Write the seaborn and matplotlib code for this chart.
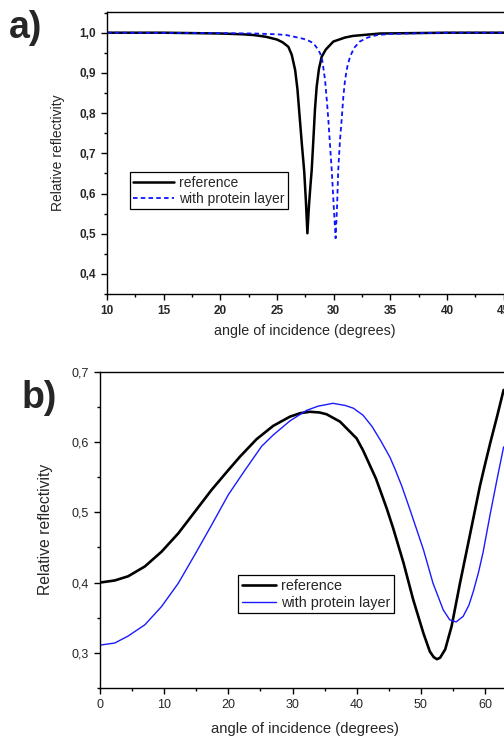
import matplotlib
matplotlib.use("Agg")
import matplotlib.pyplot as plt
from matplotlib.ticker import MultipleLocator, FuncFormatter
import seaborn as sns
import pandas as pd

# --- a) SPR resonance dip (gold film) ---
a_angle_ref = [10, 15, 20, 22, 23, 24, 25, 25.5, 26.0, 26.3, 26.6, 26.8, 27.0, 27.2,
               27.4, 27.55, 27.68, 27.82, 27.95, 28.06, 28.2, 28.35, 28.5, 28.7, 28.94,
               29.3, 29.97, 31.0, 31.7, 34.1, 37, 40, 45, 50]
a_refl_ref = [1.0, 1.0, 0.998, 0.996, 0.994, 0.990, 0.983, 0.976, 0.965, 0.945, 0.907,
              0.86, 0.79, 0.72, 0.655, 0.58, 0.501, 0.57, 0.62, 0.658, 0.73, 0.81,
              0.866, 0.91, 0.94, 0.958, 0.978, 0.988, 0.992, 0.998, 0.999, 1.0, 1.0, 1.0]

a_angle_prot = [10, 20, 23, 25, 25.85, 26.5, 27.3, 27.8, 28.2, 28.5, 28.8, 29.0, 29.1,
                29.24, 29.4, 29.53, 29.7, 29.83, 30.0, 30.17, 30.3, 30.4, 30.55, 30.7,
                30.85, 31.0, 31.2, 31.44, 31.8, 32.3, 33.0, 33.8, 35, 38, 40, 50]
a_refl_prot = [1.0, 0.999, 0.998, 0.996, 0.994, 0.99, 0.985, 0.98, 0.974, 0.963, 0.949,
               0.93, 0.91, 0.882, 0.83, 0.783, 0.71, 0.658, 0.57, 0.489, 0.57, 0.658,
               0.73, 0.783, 0.84, 0.882, 0.915, 0.94, 0.962, 0.978, 0.988, 0.994,
               0.997, 0.999, 1.0, 1.0]

# --- b) thin-film interference ---
b_angle_ref = [0, 2.3, 4.4, 7.0, 9.6, 12.2, 14.8, 17.4, 20.0, 21.8, 24.4, 27.0, 29.6,
               31.2, 32.7, 34.2, 35.3, 37.4, 40.0, 41.0, 42.0, 43.0, 43.6, 44.7, 45.7,
               47.3, 48.8, 50.4, 51.4, 52.0, 52.5, 53.0, 53.8, 54.8, 56.1, 57.7, 59.2,
               60.0, 60.8, 61.9, 62.9]
b_refl_ref = [0.400, 0.403, 0.409, 0.423, 0.444, 0.470, 0.501, 0.532, 0.560, 0.579,
              0.604, 0.623, 0.636, 0.641, 0.643, 0.642, 0.6395, 0.629, 0.605, 0.588,
              0.568, 0.548, 0.533, 0.505, 0.477, 0.428, 0.376, 0.328, 0.302, 0.294,
              0.291, 0.293, 0.305, 0.338, 0.399, 0.470, 0.537, 0.568, 0.598, 0.637,
              0.674]

b_angle_prot = [0, 2.3, 4.4, 7.0, 9.6, 12.2, 14.8, 17.4, 20.0, 22.6, 25.2, 27.0, 29.6,
                32.2, 34.0, 36.3, 38.2, 39.5, 41.0, 42.4, 43.8, 45.2, 46.0, 47.0, 48.3,
                50.4, 51.9, 53.5, 54.5, 55.5, 56.6, 57.5, 58.2, 59.0, 59.7, 60.8, 61.9,
                62.9]
b_refl_prot = [0.311, 0.314, 0.324, 0.340, 0.366, 0.399, 0.440, 0.482, 0.525, 0.560,
               0.594, 0.610, 0.630, 0.645, 0.651, 0.655, 0.652, 0.648, 0.638, 0.622,
               0.601, 0.578, 0.561, 0.538, 0.504, 0.447, 0.399, 0.361, 0.347, 0.344,
               0.352, 0.368, 0.388, 0.415, 0.443, 0.497, 0.548, 0.593]

series_labels = ["reference", "with protein layer"]
x_title = "angle of incidence (degrees)"
y_title = "Relative reflectivity"

sns.set_style("ticks")
plt.rcParams["font.family"] = ["Liberation Sans", "DejaVu Sans"]
plt.rcParams["axes.linewidth"] = 1.0

comma = FuncFormatter(lambda v, p: f"{v:.1f}".replace(".", ","))
intfmt = FuncFormatter(lambda v, p: f"{v:.0f}")

fig = plt.figure(figsize=(5.04, 7.36), dpi=100)
W, H = 504.0, 736.0


def style_axes(ax, tick_weight, size):
    ax.spines["right"].set_visible(False)
    for s in ("left", "bottom", "top"):
        ax.spines[s].set_color("black")
    ax.tick_params(which="major", direction="out", length=4.5, width=1.0,
                   labelsize=size, color="black", top=False, right=False)
    ax.tick_params(which="minor", direction="out", length=2.5, width=1.0,
                   color="black", top=False, right=False)
    for lab in ax.get_xticklabels() + ax.get_yticklabels():
        lab.set_fontweight(tick_weight)


# panel a: the x range runs slightly past the right figure edge
px_per_deg_a = (503.7 - 107.0) / 35.0
xmax_a = 46
wa = (xmax_a - 10) * px_per_deg_a
ax_a = fig.add_axes([107 / W, 1 - 294 / H, wa / W, 282 / H])
df_a_ref = pd.DataFrame({"angle": a_angle_ref, "R": a_refl_ref})
df_a_prot = pd.DataFrame({"angle": a_angle_prot, "R": a_refl_prot})
sns.lineplot(data=df_a_ref, x="angle", y="R", ax=ax_a, color="black", lw=1.8,
             label=series_labels[0], sort=False)
sns.lineplot(data=df_a_prot, x="angle", y="R", ax=ax_a, color="#0a14ff", lw=1.3,
             ls=(0, (2.5, 1.8)), label=series_labels[1], sort=False)
ax_a.set_xlim(10, xmax_a)
ax_a.set_ylim(0.35, 1.0515)
ax_a.xaxis.set_major_locator(MultipleLocator(5))
ax_a.xaxis.set_minor_locator(MultipleLocator(2.5))
ax_a.yaxis.set_major_locator(MultipleLocator(0.1))
ax_a.yaxis.set_minor_locator(MultipleLocator(0.05))
ax_a.yaxis.set_major_formatter(comma)
ax_a.xaxis.set_major_formatter(intfmt)
ax_a.set_xlabel(x_title, fontsize=10.3)
ax_a.set_ylabel(y_title, fontsize=10)
ax_a.xaxis.set_label_coords((305 - 107) / wa, -0.105)
ax_a.yaxis.set_label_coords(-(107 - 65) / wa, 0.5)
style_axes(ax_a, "bold", 8.5)
leg_a = ax_a.legend(loc="upper left", bbox_to_anchor=((130 - 107) / wa, 0.432),
                    fontsize=10, frameon=True, fancybox=False, edgecolor="black",
                    framealpha=1, handlelength=2.9, handletextpad=0.35, borderpad=0.25,
                    labelspacing=0.15, borderaxespad=0)
leg_a.get_frame().set_linewidth(0.9)

# panel b: likewise extends past the right edge
px_per_deg_b = (485.0 - 100.0) / 60.0
xmax_b = 65
wb = xmax_b * px_per_deg_b
ax_b = fig.add_axes([100 / W, 1 - 688 / H, wb / W, (688 - 371.7) / H])
df_b_ref = pd.DataFrame({"angle": b_angle_ref, "R": b_refl_ref})
df_b_prot = pd.DataFrame({"angle": b_angle_prot, "R": b_refl_prot})
sns.lineplot(data=df_b_ref, x="angle", y="R", ax=ax_b, color="black", lw=1.9,
             label=series_labels[0], sort=False)
sns.lineplot(data=df_b_prot, x="angle", y="R", ax=ax_b, color="#1a1aff", lw=1.0,
             label=series_labels[1], sort=False)
ax_b.set_xlim(0, xmax_b)
ax_b.set_ylim(0.25, 0.7)
ax_b.xaxis.set_major_locator(MultipleLocator(10))
ax_b.xaxis.set_minor_locator(MultipleLocator(5))
ax_b.yaxis.set_major_locator(MultipleLocator(0.1))
ax_b.yaxis.set_minor_locator(MultipleLocator(0.05))
ax_b.yaxis.set_major_formatter(comma)
ax_b.xaxis.set_major_formatter(intfmt)
ax_b.set_xlabel(x_title, fontsize=10.7)
ax_b.set_ylabel(y_title, fontsize=11.3)
ax_b.xaxis.set_label_coords((305 - 100) / wb, -0.106)
ax_b.yaxis.set_label_coords(-(100 - 53) / wb, 0.5)
style_axes(ax_b, "normal", 9)
leg_b = ax_b.legend(loc="upper left", bbox_to_anchor=(138 / wb, 0.357),
                    fontsize=10.4, frameon=True, fancybox=False, edgecolor="black",
                    framealpha=1, handlelength=2.4, handletextpad=0.35, borderpad=0.25,
                    labelspacing=0.2, borderaxespad=0)
leg_b.get_frame().set_linewidth(0.9)

# panel letters
fig.text(9 / W, 1 - 38 / H, "a)", fontsize=27, fontweight="bold", va="baseline", ha="left")
fig.text(21.5 / W, 1 - 408 / H, "b)", fontsize=27, fontweight="bold", va="baseline", ha="left")

fig.savefig("out.png", dpi=100)
